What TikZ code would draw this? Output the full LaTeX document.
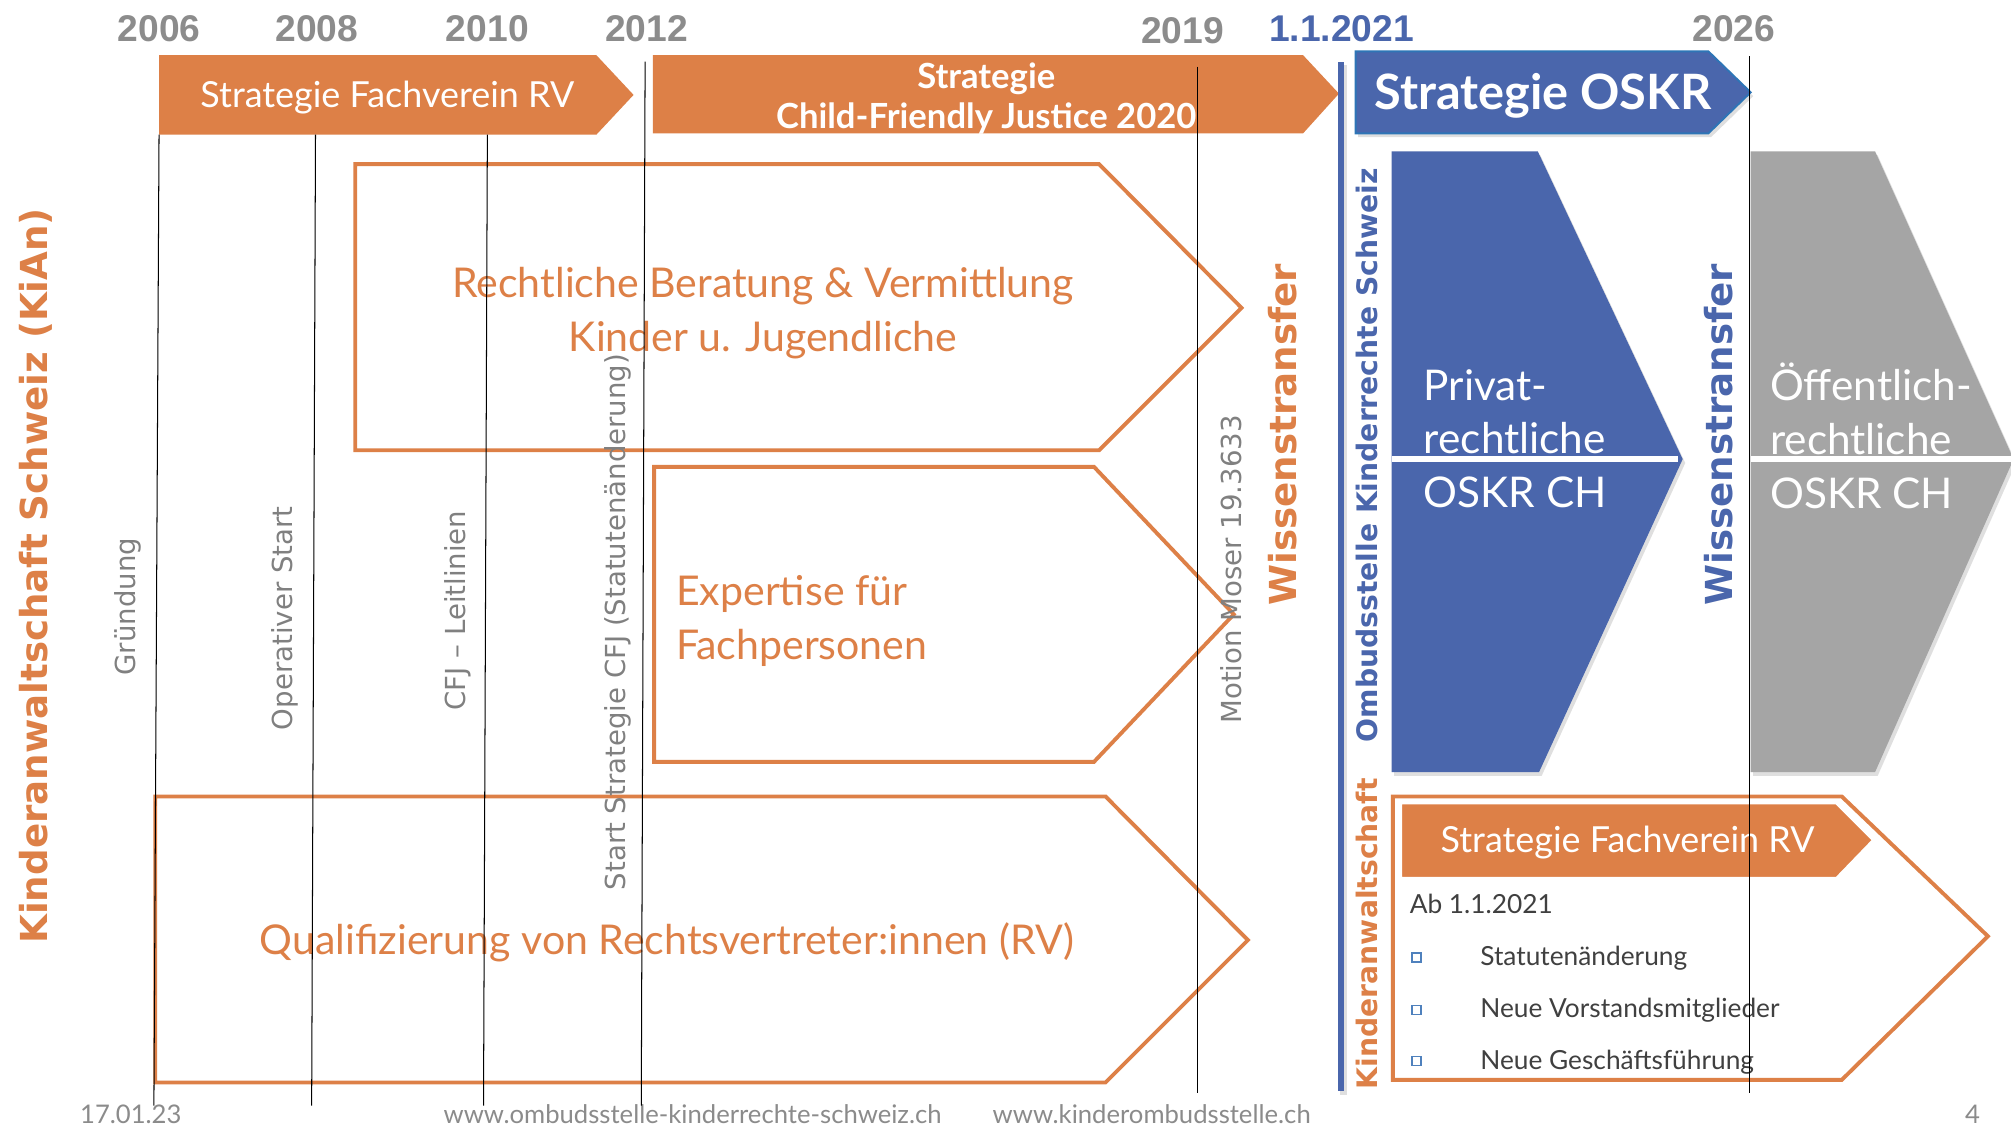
\documentclass[tikz,border=0pt]{standalone}
\usepackage{fontspec}
\setmainfont{Lato}
\newfontfamily\yearfont{Liberation Sans}
\newfontfamily\vfont{DejaVu Sans}
\usetikzlibrary{shadows}
\definecolor{kor}{RGB}{221,128,71}
\definecolor{kbl}{RGB}{74,102,172}
\definecolor{kbd}{RGB}{46,117,182}
\definecolor{kgs}{RGB}{165,165,165}
\definecolor{kyr}{RGB}{140,140,140}
\definecolor{klab}{RGB}{128,128,128}
\definecolor{ktx}{RGB}{64,64,64}
\definecolor{kbul}{RGB}{79,129,189}
\definecolor{kft}{RGB}{139,139,139}
\newcommand\fsz[2]{\fontsize{#1}{#2}\selectfont}
\tikzset{
  year/.style={inner sep=0pt, font=\yearfont\bfseries\fsz{29}{29}, text=kyr},
  arrowtxt/.style={inner sep=0pt, text=white},
  boxline/.style={draw=kor, line width=3pt, line join=miter},
  boxtxt/.style={inner sep=0pt, text=kor, font=\fsz{32}{42}},
  vlab/.style={inner sep=0pt, rotate=90, text=klab, font=\vfont\fsz{21.5}{22}},
  biglab/.style={inner sep=0pt, rotate=90, font=\vfont\bfseries\fsz{29}{29}},
  midlab/.style={inner sep=0pt, rotate=90, font=\vfont\bfseries\fsz{22}{22}},
  shapetxt/.style={inner sep=0pt, text=white, anchor=west, font=\fsz{33}{42}, align=left},
  itemtxt/.style={inner sep=0pt, text=ktx, anchor=west, font=\fsz{20.5}{22}},
  foot/.style={inner sep=0pt, text=kft, font=\fsz{20}{21}},
  tline/.style={black, line width=0.8pt},
  shad/.style={drop shadow={shadow xshift=2pt, shadow yshift=-3pt, opacity=0.25}},
  bullet/.style={draw=kbul, line width=1pt}
}
\begin{document}
\begin{tikzpicture}[x=1pt, y=-1pt]
\useasboundingbox (0,0) rectangle (1568,881);
\fill[white] (0,0) rectangle (1568,881);

% years
\node[year] (y2006) at (124,22) {2006};
\node[year] (y2008) at (247,22) {2008};
\node[year] (y2010) at (380,22) {2010};
\node[year] (y2012) at (504,22) {2012};
\node[year] (y2019) at (922,24) {2019};
\node[year, text=kbl] (y2021) at (1046,22) {1.1.2021};
\node[year] (y2026) at (1352,22) {2026};

% top arrows
\fill[kor] (124,43) -- (465,43) -- (494,74) -- (465,105) -- (124,105) -- cycle;
\node[arrowtxt, font=\fsz{28}{28}] (sfa) at (302,76) {Strategie Fachverein RV};
\fill[kor] (509,43) -- (1016,43) -- (1044,73) -- (1016,104) -- (509,104) -- cycle;
\node[arrowtxt, font=\bfseries\fsz{27}{31}, align=center] (cfj) at (769,77) {Strategie\\Child-Friendly Justice 2020};
\path[fill=kbl, draw=kbd, line width=1.5pt, shad] (1057,40) -- (1332,40) -- (1365,72) -- (1332,104) -- (1057,104) -- cycle;
\node[arrowtxt, font=\bfseries\fsz{38}{38}] (oskr) at (1203,75) {Strategie OSKR};

% blue bar
\path[fill=kbl, shad] (1043,48) rectangle (1048,851);

% outline boxes
\draw[boxline] (277,128) -- (857,128) -- (968,240) -- (857,351) -- (277,351) -- cycle;
\node[boxtxt, align=center] (b1) at (595,244) {Rechtliche Beratung \& Vermittlung\\Kinder u. Jugendliche};
\draw[boxline] (510,364) -- (853,364) -- (962,479) -- (853,594) -- (510,594) -- cycle;
\node[boxtxt, align=left, anchor=west] (b2) at (527,484) {Expertise für\\Fachpersonen};
\draw[boxline] (121,621) -- (862,621) -- (973,733) -- (862,844) -- (121,844) -- cycle;
\node[boxtxt] (b3) at (520,735) {Qualifizierung von Rechtsvertreter:innen (RV)};

% blue and gray shapes
\path[fill=kbl, shad] (1085,118) -- (1199,118) -- (1312,358) -- (1200,602) -- (1085,602) -- cycle;
\path[fill=kgs, shad] (1365,118) -- (1462,118) -- (1570,358) -- (1462,602) -- (1365,602) -- cycle;
\draw[white, line width=4.5pt] (1085,358) -- (1308,358);
\draw[white, line width=4.5pt] (1365,358) -- (1568,358);
\node[shapetxt] (pr) at (1110,342) {Privat-\\rechtliche\\OSKR CH};
\node[shapetxt] (oe) at (1380,340) {Öffentlich-\\rechtliche\\OSKR CH};

% bottom right box
\draw[boxline] (1086,621) -- (1436,621) -- (1550,730) -- (1436,842) -- (1086,842) -- cycle;
\path[fill=kor, draw=white, line width=2.5pt] (1092,626) -- (1432,626) -- (1461,655) -- (1432,685) -- (1092,685) -- cycle;
\node[arrowtxt, font=\fsz{28}{28}] (sfb) at (1269,657) {Strategie Fachverein RV};
\node[itemtxt] (ab) at (1099,705) {Ab 1.1.2021};
\draw[bullet] (1101,743) rectangle (1108,750);
\draw[bullet] (1101,784) rectangle (1108,791);
\draw[bullet] (1101,824) rectangle (1108,831);
\node[itemtxt] (i1) at (1154,747) {Statutenänderung};
\node[itemtxt] (i2) at (1154,788) {Neue Vorstandsmitglieder};
\node[itemtxt] (i3) at (1154,828) {Neue Geschäftsführung};

% rotated labels
\node[biglab, text=kor] (kian) at (28,449) {Kinderanwaltschaft Schweiz (KiAn)};
\node[vlab] (l1) at (100,473) {Gründung};
\node[vlab] (l2) at (222,482) {Operativer Start};
\node[vlab] (l3) at (357,476) {CFJ – Leitlinien};
\node[vlab] (l4) at (482,485) {Start Strategie CFJ (Statutenänderung)};
\node[vlab] (l5) at (960,444) {Motion Moser 19.3633};
\node[biglab, text=kor] (w1) at (1000,339) {Wissenstransfer};
\node[biglab, text=kbl] (w2) at (1340,339) {Wissenstransfer};
\node[midlab, text=kbl] (osk) at (1066,355) {Ombudsstelle Kinderrechte Schweiz};
\node[midlab, text=kor] (kaw) at (1066,728) {Kinderanwaltschaft};

% footer
\node[foot] (f1) at (102,869) {17.01.23};
\node[foot] (f2) at (540,869) {www.ombudsstelle-kinderrechte-schweiz.ch};
\node[foot] (f3) at (898,869) {www.kinderombudsstelle.ch};
\node[foot] (f4) at (1538,869) {4};

% timeline lines
\coordinate (t06) at (124,105); \coordinate (e06) at (120,862);
\coordinate (t08) at (246,105); \coordinate (e08) at (243,862);
\coordinate (t10) at (380,105); \coordinate (e10) at (377,862);
\coordinate (t12) at (503,48);  \coordinate (e12) at (500,862);
\coordinate (t19) at (934,52);  \coordinate (e19) at (934,852);
\coordinate (t26) at (1364,44); \coordinate (e26) at (1364,852);
\draw[tline] (t06) -- (e06);
\draw[tline] (t08) -- (e08);
\draw[tline] (t10) -- (e10);
\draw[tline] (t12) -- (e12);
\draw[tline] (t19) -- (e19);
\draw[tline] (t26) -- (e26);
\end{tikzpicture}
\end{document}
